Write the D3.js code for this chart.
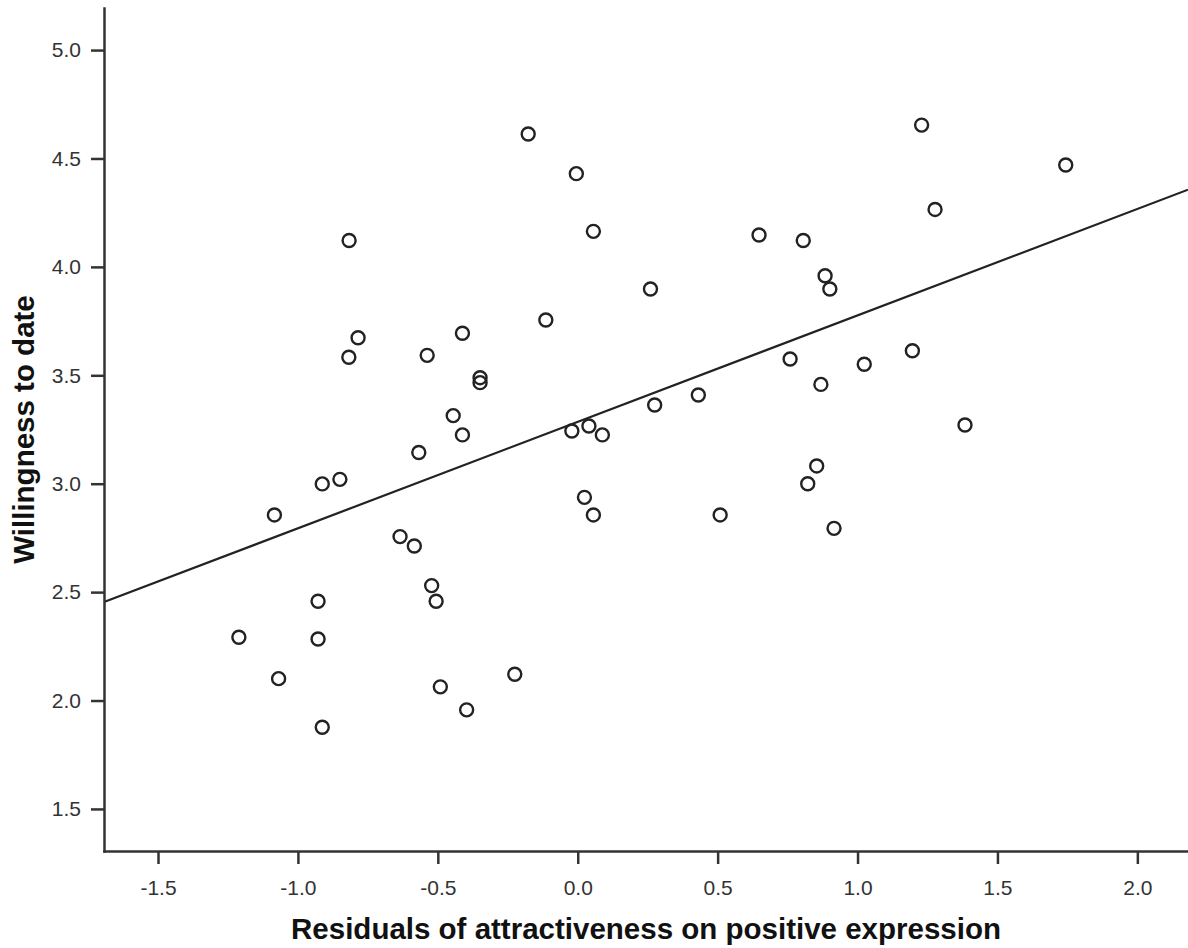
<!DOCTYPE html>
<html>
<head>
<meta charset="utf-8">
<script src="https://cdn.jsdelivr.net/npm/d3@7/dist/d3.min.js"></script>
<style>
body { margin: 0; background: #fff; }
</style>
</head>
<body>
<script>
/* residuals of attractiveness on positive expression (x) and willingness to date (y) */
var residX = [-0.177, 1.229, 1.744, -0.005, 1.277, -0.817, 0.056, 0.648, 0.806, 0.884,
              0.260, 0.901, -0.114, -0.785, -0.412, -0.818, -0.538, -0.349, -0.349, 0.759,
              1.196, 1.024, 0.431, 0.869, 0.275, -0.445, -0.412, -0.021, 0.040, 0.088,
              1.384, -0.568, -0.850, -0.913, -1.084, 0.024, 0.056, 0.509, 0.854, 0.822,
              0.916, -0.635, -0.584, -0.522, -0.506, -0.928, -1.211, -0.928, -1.069, -0.225,
              -0.491, -0.397, -0.913];
var willY  = [4.613, 4.654, 4.470, 4.430, 4.265, 4.122, 4.164, 4.147, 4.122, 3.959,
              3.898, 3.898, 3.755, 3.673, 3.694, 3.583, 3.592, 3.489, 3.466, 3.575,
              3.613, 3.551, 3.409, 3.458, 3.363, 3.314, 3.225, 3.243, 3.266, 3.225,
              3.271, 3.144, 3.020, 2.999, 2.856, 2.937, 2.856, 2.856, 3.082, 3.000,
              2.794, 2.756, 2.713, 2.530, 2.458, 2.458, 2.292, 2.284, 2.101, 2.121,
              2.063, 1.957, 1.877];

var xTicks = [-1.5, -1.0, -0.5, 0.0, 0.5, 1.0, 1.5, 2.0];
var yTicks = [1.5, 2.0, 2.5, 3.0, 3.5, 4.0, 4.5, 5.0];

/* fit line, read at the two plot edges */
var fitX = [-1.693, 2.181];
var fitY = [2.454, 4.356];

var width = 1188, height = 948;
var margin = {top: 8, right: 0, bottom: 97, left: 104};
var font = "Arial, 'Liberation Sans', sans-serif";

var svg = d3.select("body").append("svg")
 .attr("width", width).attr("height", height);

var x = d3.scaleLinear().domain([-1.693, 2.181]).range([margin.left, width - margin.right]);
var y = d3.scaleLinear().domain([1.306, 5.194]).range([height - margin.bottom, margin.top]);

/* regression line */
var fitPts = fitX.map(function(d, i) { return [d, fitY[i]]; });
svg.append("path")
 .attr("d", d3.line().x(function(d) { return x(d[0]); }).y(function(d) { return y(d[1]); })(fitPts))
 .attr("fill", "none").attr("stroke", "#222").attr("stroke-width", 2.2);

/* points */
var pts = residX.map(function(d, i) { return {x: d, y: willY[i]}; });
svg.selectAll("circle.pt").data(pts).enter().append("circle")
 .attr("class", "pt")
 .attr("cx", function(d) { return x(d.x); })
 .attr("cy", function(d) { return y(d.y); })
 .attr("r", 6.5)
 .attr("fill", "none").attr("stroke", "#222").attr("stroke-width", 2.4);

/* axes */
var fmt = function(d) { return d.toFixed(1); };

var gx = svg.append("g").attr("transform", "translate(0," + (height - margin.bottom) + ")")
 .call(d3.axisBottom(x).tickValues(xTicks).tickFormat(fmt).tickSize(13).tickSizeOuter(0).tickPadding(16));

var gy = svg.append("g").attr("transform", "translate(" + margin.left + ",0)")
 .call(d3.axisLeft(y).tickValues(yTicks).tickFormat(fmt).tickSize(13).tickSizeOuter(0).tickPadding(10));

[gx, gy].forEach(function(g) {
 g.attr("font-family", font).attr("font-size", 21);
 g.select(".domain").attr("stroke", "#333").attr("stroke-width", 2.5).attr("stroke-linecap", "square");
 g.selectAll(".tick line").attr("stroke", "#333").attr("stroke-width", 2.5);
 g.selectAll(".tick text").attr("fill", "#333");
});

/* axis titles */
svg.append("text")
 .attr("x", (margin.left + width - margin.right) / 2).attr("y", 939)
 .attr("text-anchor", "middle")
 .attr("font-family", font).attr("font-size", 29.5).attr("font-weight", "bold").attr("fill", "#111")
 .text("Residuals of attractiveness on positive expression");

svg.append("text")
 .attr("transform", "translate(33.5," + ((margin.top + height - margin.bottom) / 2) + ") rotate(-90)")
 .attr("text-anchor", "middle")
 .attr("font-family", font).attr("font-size", 29.5).attr("font-weight", "bold").attr("fill", "#111")
 .text("Willingness to date");
</script>
</body>
</html>
